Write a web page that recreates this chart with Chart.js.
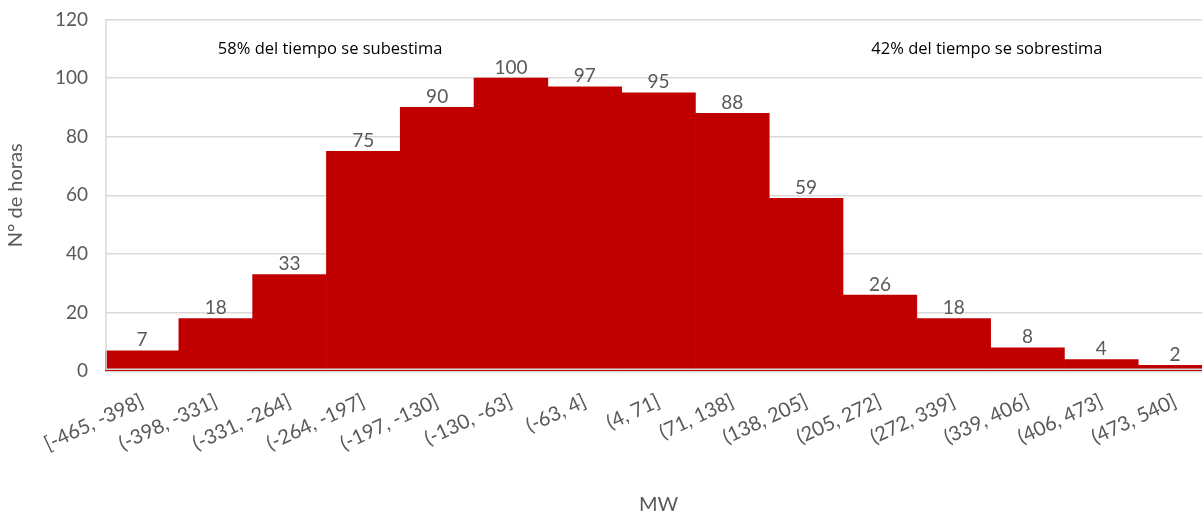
<!DOCTYPE html>
<html>
<head>
<meta charset="utf-8">
<script src="https://cdn.jsdelivr.net/npm/chart.js@4.4.1/dist/chart.umd.min.js"></script>
<style>
  html, body { margin: 0; padding: 0; background: #fff; overflow: hidden; }
  #wrap { width: 1202px; height: 512px; overflow: hidden; }
  #chart { display: block; margin-top: -9px; }
</style>
</head>
<body>
<div id="wrap"><canvas id="chart" width="1212" height="526"></canvas></div>
<script>
'use strict';

// DATA
const binLabels = ['[-465, -398]', '(-398, -331]', '(-331, -264]', '(-264, -197]', '(-197, -130]',
  '(-130, -63]', '(-63, 4]', '(4, 71]', '(71, 138]', '(138, 205]', '(205, 272]',
  '(272, 339]', '(339, 406]', '(406, 473]', '(473, 540]'];
const hourCounts = [7, 18, 33, 75, 90, 100, 97, 95, 88, 59, 26, 18, 8, 4, 2];
const yTicks = [0, 20, 40, 60, 80, 100, 120];
const noteLeft = '58% del tiempo se subestima';
const noteRight = '42% del tiempo se sobrestima';

const FONT = 'Lato, "Open Sans", sans-serif';
const GREY = '#595959';

// draws the count above each bar
const valueLabels = {
  id: 'valueLabels',
  afterDatasetsDraw(chart) {
    const ctx = chart.ctx;
    const meta = chart.getDatasetMeta(0);
    ctx.save();
    ctx.font = '19px ' + FONT;
    ctx.fillStyle = GREY;
    ctx.textAlign = 'center';
    ctx.textBaseline = 'bottom';
    meta.data.forEach((bar, i) => {
      ctx.fillText(hourCounts[i], bar.x, bar.y - 1);
    });
    ctx.restore();
  }
};

// the two notes at the top + axis lines over the bars
const notes = {
  id: 'notes',
  afterDraw(chart) {
    const ctx = chart.ctx;
    const area = chart.chartArea;
    const x = chart.scales.x;
    ctx.save();
    ctx.strokeStyle = '#d9d9d9';
    ctx.lineWidth = 1.5;
    ctx.beginPath();
    ctx.moveTo(area.left + 1, area.top);
    ctx.lineTo(area.left + 1, area.bottom - 2);
    ctx.lineTo(area.right, area.bottom - 2);
    ctx.stroke();

    ctx.font = '16.5px "Open Sans", sans-serif';
    ctx.fillStyle = '#000';
    ctx.textAlign = 'center';
    ctx.textBaseline = 'middle';
    ctx.fillText(noteLeft, x.getPixelForValue(2.55), area.top + 30);
    ctx.fillText(noteRight, x.getPixelForValue(11.45), area.top + 30);
    ctx.restore();
  }
};

new Chart(document.getElementById('chart'), {
  type: 'bar',
  data: {
    labels: binLabels,
    datasets: [{
      label: 'N° de horas',
      data: hourCounts,
      backgroundColor: '#C00000',
      borderWidth: 0,
      barPercentage: 1,
      categoryPercentage: 1
    }]
  },
  options: {
    responsive: false,
    animation: false,
    layout: { padding: { top: 0, right: 0, left: 4, bottom: 0 } },
    plugins: {
      legend: { display: false },
      tooltip: { enabled: false }
    },
    scales: {
      x: {
        grid: { display: false },
        border: { display: false },
        ticks: {
          color: GREY,
          font: { family: FONT, size: 20 },
          minRotation: 25,
          maxRotation: 25,
          autoSkip: false,
          padding: 10
        },
        title: {
          display: true,
          text: 'MW',
          color: GREY,
          font: { family: FONT, size: 20 },
          padding: { top: 27, bottom: 0 }
        }
      },
      y: {
        min: 0,
        max: 120,
        afterBuildTicks(axis) {
          axis.ticks = yTicks.map(v => ({ value: v }));
        },
        grid: { color: '#d9d9d9', lineWidth: 1.5, drawTicks: false },
        border: { display: false },
        ticks: {
          color: GREY,
          font: { family: FONT, size: 19 },
          padding: 17
        },
        title: {
          display: true,
          text: 'N° de horas',
          color: GREY,
          font: { family: FONT, size: 20 },
          padding: { top: 0, bottom: 10 }
        }
      }
    }
  },
  plugins: [valueLabels, notes]
});
</script>
</body>
</html>
